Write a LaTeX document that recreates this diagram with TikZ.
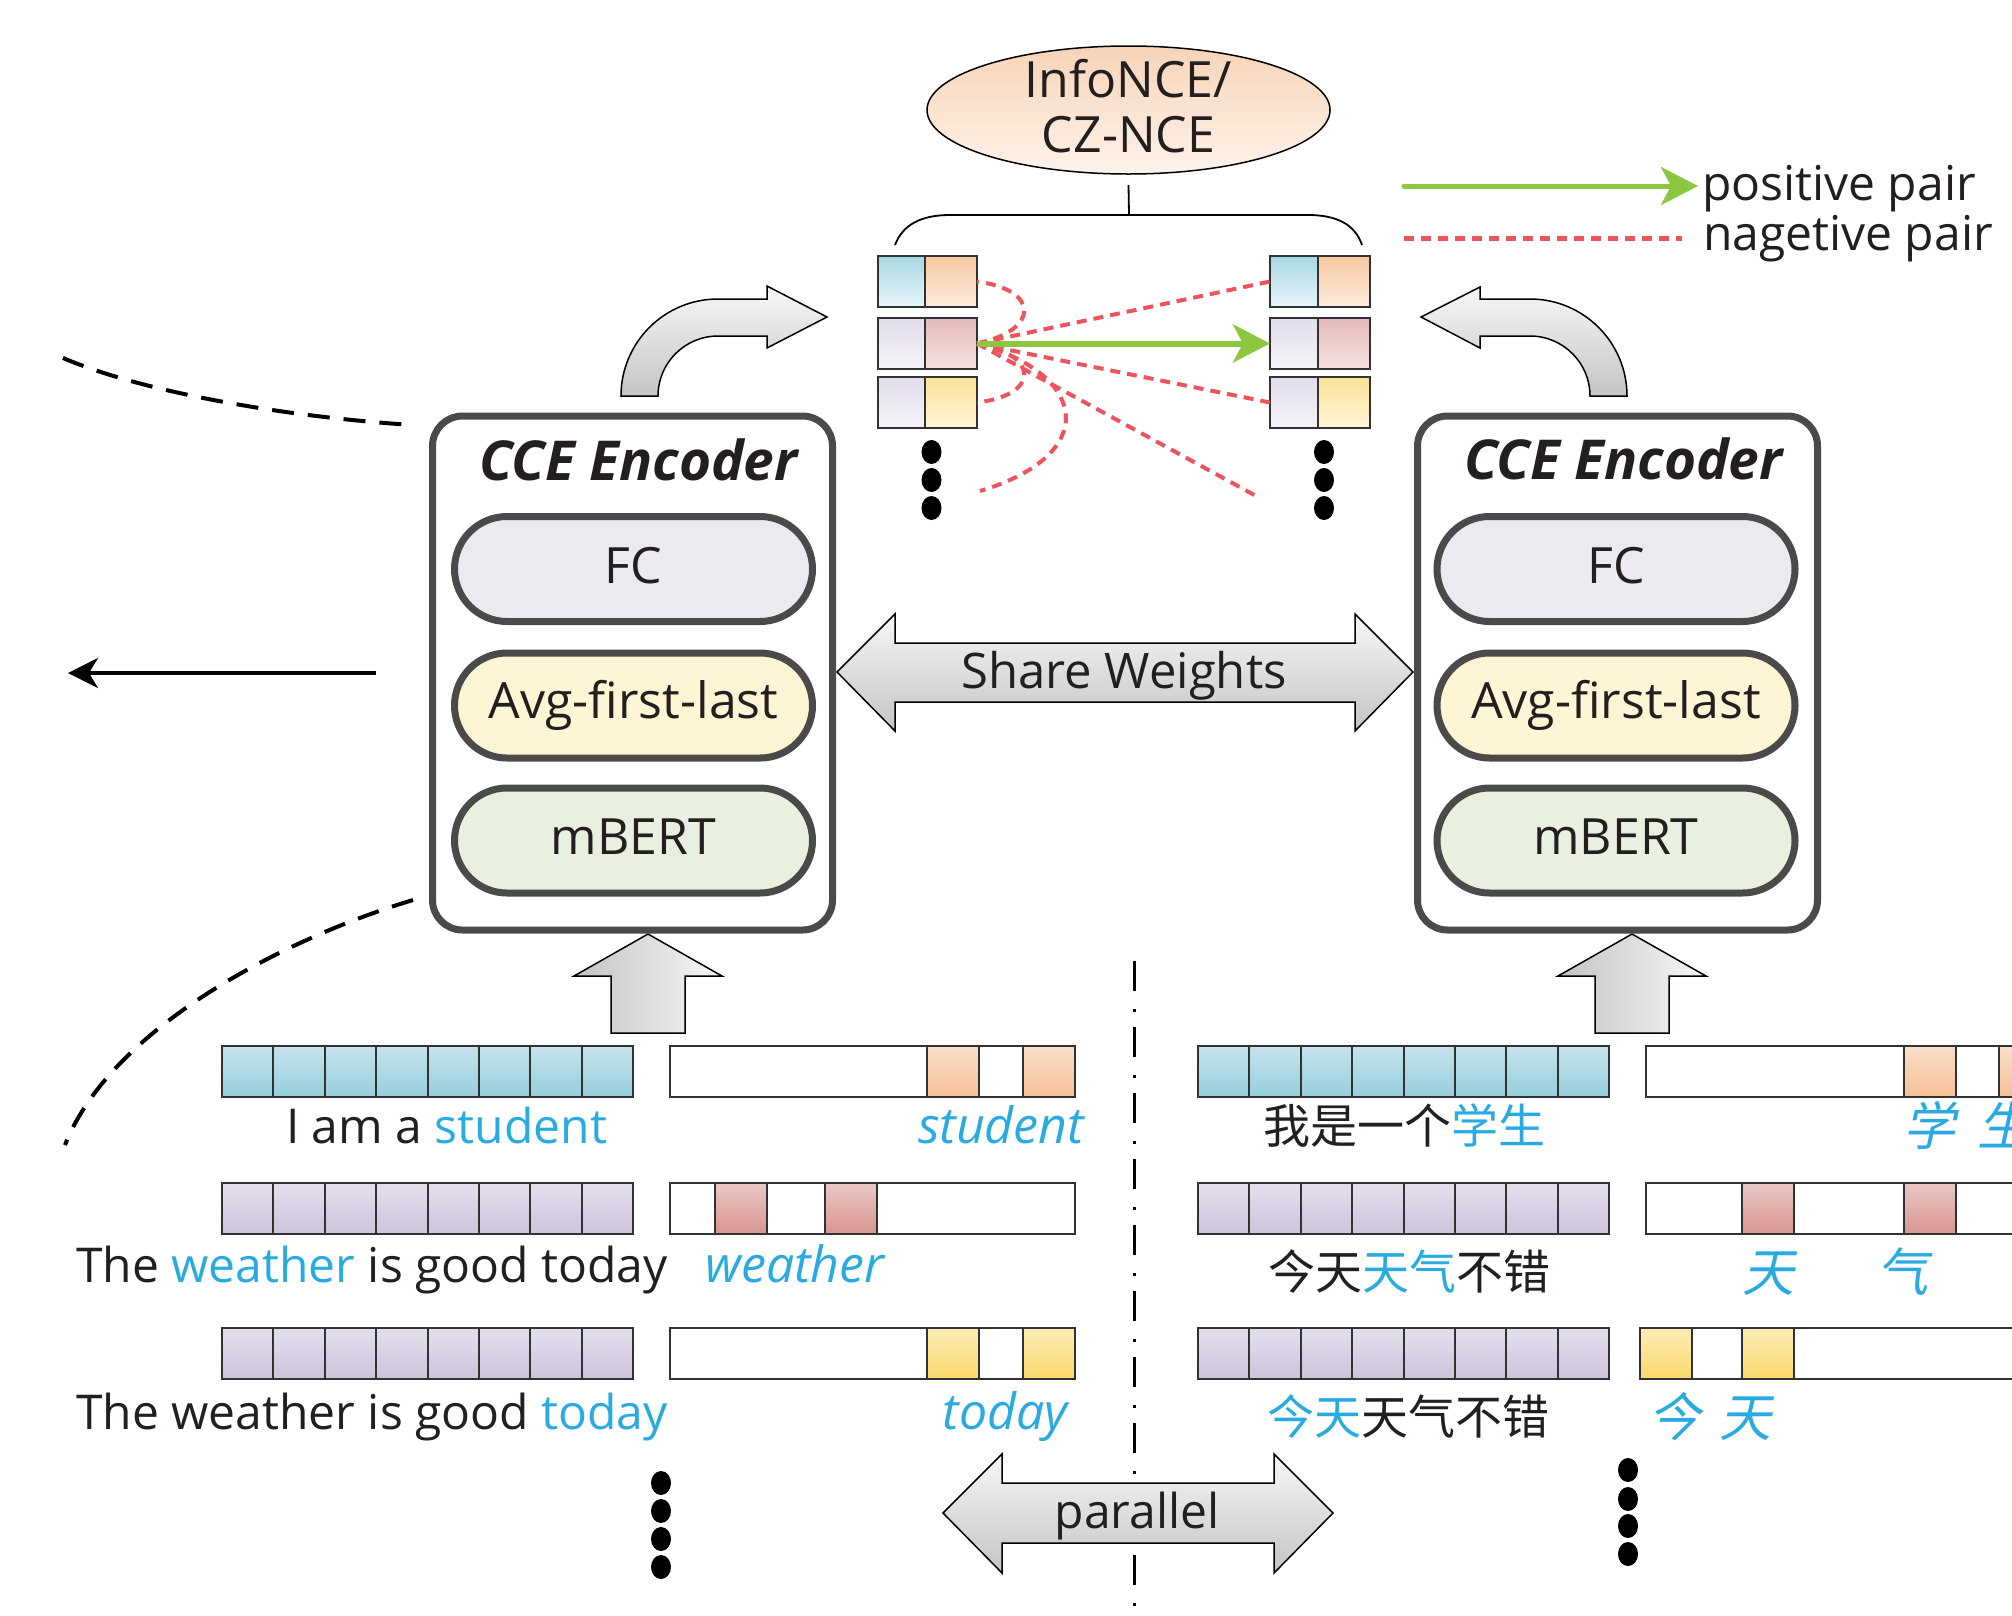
\documentclass[tikz,border=0pt]{standalone}
\usepackage{fontspec}
\setmainfont{Open Sans}
\newfontfamily\cjk{Noto Sans CJK SC}
\newfontfamily\cjkit[FakeSlant=0.22]{Noto Sans CJK SC}
\usetikzlibrary{arrows.meta,shapes.geometric,shapes.misc}
\newcommand\fsz[1]{\fontsize{#1}{#1}\selectfont}

% text and line colours
\definecolor{txtdark}{RGB}{35,31,32}
\definecolor{txtblue}{RGB}{41,171,226}
\definecolor{posgreen}{RGB}{141,198,63}
\definecolor{negred}{RGB}{238,84,92}
\definecolor{edgegray}{RGB}{74,74,74}
\definecolor{cellline}{RGB}{50,50,50}
% layer fills
\definecolor{fcfill}{RGB}{236,233,241}
\definecolor{avgfill}{RGB}{253,245,211}
\definecolor{bertfill}{RGB}{233,240,223}
% loss ellipse
\definecolor{ellT}{RGB}{248,212,184}
\definecolor{ellB}{RGB}{253,243,234}
% gray block arrows
\definecolor{blkdark}{RGB}{196,196,196}
\definecolor{blklight}{RGB}{246,247,247}
% token strips (bottom)
\definecolor{tbT}{RGB}{197,228,236}\definecolor{tbB}{RGB}{150,206,220}
\definecolor{tpT}{RGB}{228,223,236}\definecolor{tpB}{RGB}{205,195,220}
\definecolor{toT}{RGB}{249,223,202}\definecolor{toB}{RGB}{246,192,150}
\definecolor{trT}{RGB}{233,200,197}\definecolor{trB}{RGB}{216,148,144}
\definecolor{tyT}{RGB}{253,237,182}\definecolor{tyB}{RGB}{251,216,106}
% sentence vectors (top)
\definecolor{sbT}{RGB}{168,216,228}\definecolor{sbB}{RGB}{232,245,249}
\definecolor{soT}{RGB}{248,200,160}\definecolor{soB}{RGB}{252,236,222}
\definecolor{slT}{RGB}{226,221,235}\definecolor{slB}{RGB}{245,243,248}
\definecolor{srT}{RGB}{228,185,185}\definecolor{srB}{RGB}{246,226,226}
\definecolor{syT}{RGB}{252,226,150}\definecolor{syB}{RGB}{254,246,216}

\begin{document}
\begin{tikzpicture}[x=1pt,y=-1pt,
  every node/.style={inner sep=0pt,outer sep=0pt,text=txtdark},
  lbl/.style={font=\fsz{48},anchor=base},
  ital/.style={font=\fsz{50}\itshape,anchor=base,text=txtblue},
  cjklbl/.style={font=\cjk\fsz{47},anchor=base},
  cjkital/.style={font=\cjkit\fsz{52},anchor=base,text=txtblue},
  encbox/.style={draw=edgegray,line width=7pt,rounded corners=30pt,fill=white,minimum width=400pt,minimum height=514pt},
  enctitle/.style={font=\fsz{55}\bfseries\itshape,anchor=base},
  pill/.style={rounded rectangle,draw=edgegray,line width=7pt,minimum width=358pt,minimum height=105pt},
  pilltext/.style={font=\fsz{50},anchor=base},
  tok/.style={draw=cellline,line width=2pt,minimum width=51.375pt,minimum height=51pt},
  hitcell/.style={draw=cellline,line width=2pt,minimum width=52pt,minimum height=51pt},
  wbox/.style={draw=cellline,line width=2pt,fill=white,minimum height=51pt},
  vec/.style={draw=cellline,line width=2pt,minimum height=51pt},
  tblue/.style={top color=tbT,bottom color=tbB},
  tpurp/.style={top color=tpT,bottom color=tpB},
  torange/.style={top color=toT,bottom color=toB},
  tred/.style={top color=trT,bottom color=trB},
  tyellow/.style={top color=tyT,bottom color=tyB},
  sblue/.style={top color=sbT,bottom color=sbB},
  sorange/.style={top color=soT,bottom color=soB},
  slav/.style={top color=slT,bottom color=slB},
  sred/.style={top color=srT,bottom color=srB},
  syellow/.style={top color=syT,bottom color=syB},
  bigdot/.style={ellipse,fill=black,minimum width=20pt,minimum height=24pt},
  blockarrow/.style={draw=black,line width=1.5pt},
  posarrow/.style={draw=posgreen,line width=6pt,-{Stealth[length=37pt,width=38pt,inset=10pt]}},
  negline/.style={draw=negred,line width=4pt,dash pattern=on 10pt off 7pt},
  blackdash/.style={draw=black,line width=4pt,dash pattern=on 22pt off 14pt},
]
\path[use as bounding box] (0,0) rectangle (2012,1615);
\clip (0,0) rectangle (2012,1615);

% ---------- strokes leaving the picture on the left ----------
\coordinate (dA1) at (63,358);
\coordinate (dA2) at (413,425);
\draw[blackdash] (dA1) .. controls (150,395) and (300,418) .. (dA2);
\coordinate (dB1) at (413,900);
\coordinate (dB2) at (65,1145);
\draw[blackdash] (dB1) .. controls (280,940) and (110,1030) .. (dB2);
\coordinate (lfS) at (376,673);
\coordinate (lfE) at (68,673);
\draw[line width=3.5pt,-{Stealth[length=30pt,width=30pt,inset=9pt]}] (lfS) -- (lfE);

% ---------- gray block arrows ----------
% inputs into the encoders
\path[blockarrow,left color=blkdark,right color=blklight]
  (648,934) -- (722,976) -- (685,976) -- (685,1033) -- (611,1033) -- (611,976) -- (574,976) -- cycle;
\path[blockarrow,left color=blkdark,right color=blklight]
  (1632,934) -- (1706,976) -- (1669,976) -- (1669,1033) -- (1595,1033) -- (1595,976) -- (1558,976) -- cycle;
% shared weights
\path[blockarrow,top color=blklight,bottom color=blkdark]
  (837,672) -- (895,614) -- (895,643) -- (1355,643) -- (1355,614) -- (1413,672)
  -- (1355,731) -- (1355,702) -- (895,702) -- (895,731) -- cycle;
% encoder outputs curving up to the sentence vectors
\path[blockarrow,top color=blklight,bottom color=blkdark]
  (621,396) .. controls (621,342.4) and (664.4,299) .. (718,299) -- (767,299) -- (767,286)
  -- (827,317) -- (767,348) -- (767,336) -- (718,336)
  .. controls (684.9,336) and (658,362.9) .. (658,396) -- cycle;
\path[blockarrow,top color=blklight,bottom color=blkdark]
  (1627,396) .. controls (1627,342.4) and (1583.6,299) .. (1530,299) -- (1480,299) -- (1480,287)
  -- (1421,317) -- (1480,348) -- (1480,336) -- (1530,336)
  .. controls (1563.1,336) and (1590,362.9) .. (1590,396) -- cycle;

% ---------- the two CCE encoders ----------
\node[encbox] (encL) at (632.5,673) {};
\node[enctitle] (encLt) at (638.5,480) {CCE Encoder};
\node[pill,fill=fcfill] (fcL) at (633.5,569) {};
\node[pill,fill=avgfill] (avgL) at (633.5,705.5) {};
\node[pill,fill=bertfill] (bertL) at (633.5,840.5) {};
\node[pilltext] (fcLt) at (633.5,583) {FC};
\node[pilltext] (avgLt) at (633.5,718) {Avg-first-last};
\node[pilltext] (bertLt) at (633.5,854) {mBERT};

\node[encbox] (encR) at (1617.5,673) {};
\node[enctitle] (encRt) at (1623.5,479) {CCE Encoder};
\node[pill,fill=fcfill] (fcR) at (1616,569) {};
\node[pill,fill=avgfill] (avgR) at (1616,705.5) {};
\node[pill,fill=bertfill] (bertR) at (1616,840.5) {};
\node[pilltext] (fcRt) at (1616,583) {FC};
\node[pilltext] (avgRt) at (1616,718) {Avg-first-last};
\node[pilltext] (bertRt) at (1616,854) {mBERT};

\node[font=\fsz{49},anchor=base] (share) at (1124,688) {Share Weights};

% ---------- contrastive loss ----------
\node[ellipse,draw=black,line width=1.5pt,top color=ellT,bottom color=ellB,
      minimum width=403pt,minimum height=128pt] (loss) at (1128.5,110) {};
\node[lbl,font=\fsz{50}] (lossA) at (1128.5,97) {InfoNCE/};
\node[lbl,font=\fsz{50}] (lossB) at (1128.5,152) {CZ-NCE};
\coordinate (brk) at (1129,215);
\draw[line width=1.8pt] ([yshift=-11pt]loss.south) -- (brk);
\coordinate (brL) at (895,245);
\coordinate (brR) at (1362,245);
\draw[line width=1.8pt] (brL) .. controls (903,224) and (922,215) .. (950,215)
  -- (1308,215) .. controls (1336,215) and (1355,224) .. (brR);

% ---------- sentence vectors ----------
\node[vec,sblue,minimum width=47pt] (L1a) at (901.5,281.5) {};
\node[vec,sorange,minimum width=52pt] (L1b) at (951,281.5) {};
\node[vec,slav,minimum width=47pt] (L2a) at (901.5,343.5) {};
\node[vec,sred,minimum width=52pt] (L2b) at (951,343.5) {};
\node[vec,slav,minimum width=47pt] (L3a) at (901.5,402.5) {};
\node[vec,syellow,minimum width=52pt] (L3b) at (951,402.5) {};
\node[vec,sblue,minimum width=48pt] (R1a) at (1294,281.5) {};
\node[vec,sorange,minimum width=52pt] (R1b) at (1344,281.5) {};
\node[vec,slav,minimum width=48pt] (R2a) at (1294,343.5) {};
\node[vec,sred,minimum width=52pt] (R2b) at (1344,343.5) {};
\node[vec,slav,minimum width=48pt] (R3a) at (1294,402.5) {};
\node[vec,syellow,minimum width=52pt] (R3b) at (1344,402.5) {};
\foreach \y [count=\k] in {452,480,508} {
  \node[bigdot] (tdl\k) at (931.5,\y) {};
  \node[bigdot] (tdr\k) at (1324,\y) {};
}

% negative pairs
\coordinate (nfree1) at (1258,497);
\coordinate (nfree2) at (980,491);
\draw[negline] (L2b.east) -- (R1a.west);
\draw[negline] (L2b.east) -- (R3a.west);
\draw[negline] (L2b.east) -- (nfree1);
\draw[negline] (L2b.east) .. controls (1040,330) and (1040,290) .. (L1b.east);
\draw[negline] (L2b.east) .. controls (1040,355) and (1040,395) .. (L3b.east);
\draw[negline] (L2b.east) .. controls (1090,375) and (1100,455) .. (nfree2);
% positive pair
\draw[posarrow] (L2b.east) -- (R2a.west);

% ---------- legend ----------
\coordinate (lgpS) at (1404,186);
\coordinate (lgpE) at (1698,186);
\draw[posarrow,line width=5pt,line cap=round] (lgpS) -- (lgpE);
\node[lbl,anchor=base west] (lgpos) at (1702,200) {positive pair};
\coordinate (lgnS) at (1404,238);
\coordinate (lgnE) at (1682,238);
\draw[negline,line width=5pt] (lgnS) -- (lgnE);
\node[lbl,anchor=base west] (lgneg) at (1703,250) {nagetive pair};

% ---------- English inputs ----------
\foreach \i in {0,...,7} {
  \node[tok,tblue] (e1c\i) at ({222+51.375*(\i+0.5)},1071) {};
  \node[tok,tpurp] (e2c\i) at ({222+51.375*(\i+0.5)},1208.5) {};
  \node[tok,tpurp] (e3c\i) at ({222+51.375*(\i+0.5)},1353.5) {};
}
\node[wbox,minimum width=405pt] (e1w) at (872.5,1071) {};
\node[hitcell,torange] (e1h1) at (953,1071) {};
\node[hitcell,torange] (e1h2) at (1049,1071) {};
\node[wbox,minimum width=405pt] (e2w) at (872.5,1208.5) {};
\node[hitcell,tred] (e2h1) at (741,1208.5) {};
\node[hitcell,tred] (e2h2) at (850.5,1208.5) {};
\node[wbox,minimum width=405pt] (e3w) at (872.5,1353.5) {};
\node[hitcell,tyellow] (e3h1) at (953,1353.5) {};
\node[hitcell,tyellow] (e3h2) at (1049,1353.5) {};

\node[lbl] (s1) at (446.5,1143) {I am a \textcolor{txtblue}{student}};
\node[ital] (s1k) at (1001,1143) {student};
\node[lbl] (s2) at (372,1282) {The \textcolor{txtblue}{weather} is good today};
\node[ital] (s2k) at (795,1282) {weather};
\node[lbl] (s3) at (372,1429) {The weather is good \textcolor{txtblue}{today}};
\node[ital] (s3k) at (1005,1429) {today};
\foreach \y [count=\k] in {1483,1511,1539,1567}
  \node[bigdot] (bdl\k) at (661,\y) {};

% ---------- Chinese inputs ----------
\foreach \i in {0,...,7} {
  \node[tok,tblue] (z1c\i) at ({1198+51.375*(\i+0.5)},1071) {};
  \node[tok,tpurp] (z2c\i) at ({1198+51.375*(\i+0.5)},1208.5) {};
  \node[tok,tpurp] (z3c\i) at ({1198+51.375*(\i+0.5)},1353.5) {};
}
\node[wbox,minimum width=460pt] (z1w) at (1876,1071) {};
\node[hitcell,torange] (z1h1) at (1929.5,1071) {};
\node[hitcell,torange] (z1h2) at (2025,1071) {};
\node[wbox,minimum width=466pt] (z2w) at (1879,1208.5) {};
\node[hitcell,tred] (z2h1) at (1767.5,1208.5) {};
\node[hitcell,tred] (z2h2) at (1929.5,1208.5) {};
\node[wbox,minimum width=472pt] (z3w) at (1876,1353.5) {};
\node[hitcell,tyellow] (z3h1) at (1666,1353.5) {};
\node[hitcell,tyellow] (z3h2) at (1767.5,1353.5) {};

\node[cjklbl] (c1) at (1404.5,1143) {我是一个\textcolor{txtblue}{学生}};
\node[cjkital] (c1a) at (1929,1145) {学};
\node[cjkital] (c1b) at (2003,1145) {生};
\node[cjklbl] (c2) at (1409,1289) {今天\textcolor{txtblue}{天气}不错};
\node[cjkital] (c2a) at (1768,1291) {天};
\node[cjkital] (c2b) at (1902,1291) {气};
\node[cjklbl] (c3) at (1408,1434) {\textcolor{txtblue}{今天}天气不错};
\node[cjkital] (c3a) at (1674,1436) {今};
\node[cjkital] (c3b) at (1745,1436) {天};
\foreach \y [count=\k] in {1470,1499,1526,1554}
  \node[bigdot] (bdr\k) at (1628,\y) {};

% ---------- language separator and parallel arrow ----------
\coordinate (sepT) at (1134,961);
\coordinate (sepB) at (1134,1615);
\draw[line width=3pt,dash pattern=on 30pt off 18pt on 3pt off 15pt] (sepT) -- (sepB);
\path[blockarrow,top color=blklight,bottom color=blkdark]
  (943,1513) -- (1002,1454) -- (1002,1483) -- (1274,1483) -- (1274,1454) -- (1333,1513)
  -- (1274,1573) -- (1274,1543) -- (1002,1543) -- (1002,1573) -- cycle;
\node[lbl] (par) at (1137,1528) {parallel};
\end{tikzpicture}
\end{document}
